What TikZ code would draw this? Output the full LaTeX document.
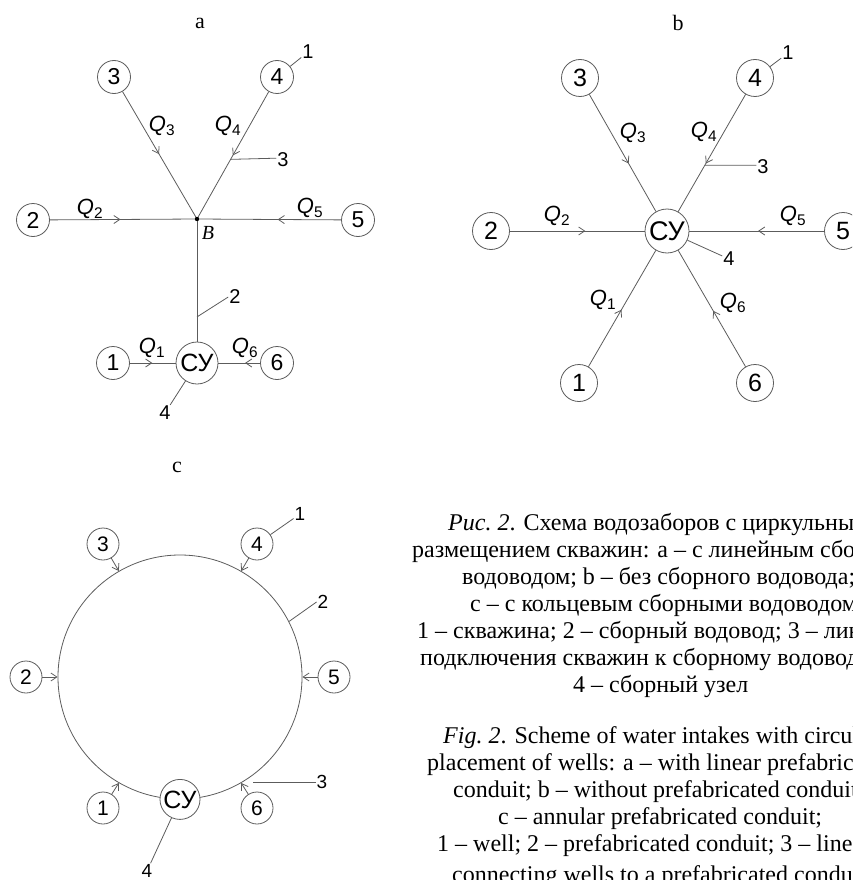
\documentclass[tikz,border=0pt]{standalone}
\usepackage{fontspec}
\setmainfont{Liberation Serif}
\setsansfont{Liberation Sans}
\usetikzlibrary{arrows.meta,decorations.markings,calc}
\definecolor{lc}{gray}{0.36}
\tikzset{
  ln/.style={draw=lc, line width=0.8pt},
  barb/.style={-{Straight Barb[length=6pt,width=8pt]}},
  midarr/.style={postaction={decorate}, decoration={markings, mark=at position #1 with {\arrow{Straight Barb[length=6pt,width=8pt]}}}},
  wellbase/.style={circle, draw=lc, line width=0.8pt, fill=white, inner sep=0pt},
  wellA/.style={wellbase, minimum size=33pt, font=\sffamily\fontsize{23}{23}\selectfont},
  cyA/.style={wellbase, minimum size=42pt, font=\sffamily\fontsize{25}{25}\selectfont},
  wellB/.style={wellbase, minimum size=37pt, font=\sffamily\fontsize{25}{25}\selectfont},
  cyB/.style={wellbase, minimum size=44pt, font=\sffamily\fontsize{27}{27}\selectfont},
  wellC/.style={wellbase, minimum size=32pt, font=\sffamily\fontsize{21}{21}\selectfont},
  cyC/.style={wellbase, minimum size=40pt, font=\sffamily\fontsize{25}{25}\selectfont},
  ringst/.style={circle, draw=lc, line width=0.8pt, inner sep=0pt, minimum size=244pt},
  lab/.style={inner sep=1pt, font=\sffamily\fontsize{20}{20}\selectfont},
  qlab/.style={inner sep=0pt, font=\sffamily\itshape\fontsize{22}{22}\selectfont},
  ttl/.style={inner sep=0pt, font=\fontsize{22}{22}\selectfont},
  captxt/.style={anchor=base west, inner sep=0pt, font=\fontsize{24}{27}\selectfont},
}
\newcommand{\qq}[1]{Q\textsubscript{\upshape #1}}
\begin{document}
\begin{tikzpicture}[x=1pt,y=-1pt]
\useasboundingbox (0,0) rectangle (852,880);
\clip (0,0) rectangle (852,880);

% ---------------- panel a
\node[ttl] (ta) at (200,23) {a};
\coordinate (aB) at (197,219);
\node[wellA] (a3) at (114,77) {3};
\node[wellA] (a4) at (277,77) {4};
\node[wellA] (a2) at (33,220) {2};
\node[wellA] (a5) at (358,220) {5};
\node[wellA] (a1) at (113,363) {1};
\node[wellA] (a6) at (277,363) {6};
\node[cyA] (aCY) at (197,363) {СУ};
\draw[ln, midarr=0.49] (a3) -- (aB);
\draw[ln, midarr=0.5] (a4) -- (aB);
\draw[ln, midarr=0.48] (a2) -- (aB);
\draw[ln, midarr=0.44] (a5) -- (aB);
\draw[ln] (aB) -- (aCY);
\draw[ln, midarr=0.49] (a1) -- (aCY);
\draw[ln, midarr=0.36] (a6) -- (aCY);
\fill (aB) circle[radius=2.2pt];
\node[inner sep=0pt, font=\itshape\fontsize{20}{20}\selectfont] (aBl) at (208,233) {B};
\node[qlab] (aq3) at (162,126) {\qq{3}};
\node[qlab] (aq4) at (228,126) {\qq{4}};
\node[qlab] (aq2) at (90,209) {\qq{2}};
\node[qlab] (aq5) at (310,208) {\qq{5}};
\node[qlab] (aq1) at (152,348) {\qq{1}};
\node[qlab] (aq6) at (245,348) {\qq{6}};
\node[lab] (aL1) at (308,52) {1};
\node[lab] (aL3) at (283,160) {3};
\node[lab] (aL2) at (235,297) {2};
\node[lab] (aL4) at (165,413) {4};
\coordinate (pa3) at ($(a4)!0.58!(aB)$);
\coordinate (pa2) at ($(aB)!0.68!(aCY)$);
\draw[ln] (a4) -- (aL1);
\draw[ln] (pa3) -- (aL3.165);
\draw[ln] (pa2) -- (aL2.west);
\draw[ln] (aCY) -- (aL4);

% ---------------- panel b
\node[ttl] (tb) at (678,23) {b};
\node[wellB] (b3) at (580,78) {3};
\node[wellB] (b4) at (755,78) {4};
\node[wellB] (b2) at (491,231) {2};
\node[wellB] (b5) at (843,231) {5};
\node[wellB] (b1) at (579,383) {1};
\node[wellB] (b6) at (755,383) {6};
\node[cyB] (bCY) at (667,231) {СУ};
\draw[ln, midarr=0.59] (b3) -- (bCY);
\draw[ln, midarr=0.59] (b4) -- (bCY);
\draw[ln, midarr=0.56] (b2) -- (bCY);
\draw[ln, midarr=0.49] (b5) -- (bCY);
\draw[ln, midarr=0.49] (b1) -- (bCY);
\draw[ln, midarr=0.48] (b6) -- (bCY);
\node[qlab] (bq3) at (633,133) {\qq{3}};
\node[qlab] (bq4) at (704,132) {\qq{4}};
\node[qlab] (bq2) at (557,216) {\qq{2}};
\node[qlab] (bq5) at (793,216) {\qq{5}};
\node[qlab] (bq1) at (603,300) {\qq{1}};
\node[qlab] (bq6) at (733,303) {\qq{6}};
\node[lab] (bL1) at (788,53) {1};
\node[lab] (bL3) at (763,167) {3};
\node[lab] (bL4) at (729,259) {4};
\coordinate (pb3) at ($(b4)!0.57!(bCY)$);
\draw[ln] (b4) -- (bL1);
\draw[ln] (pb3) -- (bL3.165);
\draw[ln] (bCY) -- (bL4);

% ---------------- panel c
\node[ttl] (tc) at (177,467) {c};
\node[ringst] (ring) at (180,677) {};
\node[wellC] (c3) at (103,544) {3};
\node[wellC] (c4) at (257,544) {4};
\node[wellC] (c2) at (26,677) {2};
\node[wellC] (c5) at (334,677) {5};
\node[wellC] (c1) at (103,808) {1};
\node[wellC] (c6) at (257,808) {6};
\node[cyC] (cCY) at (ring.270) {СУ};
\draw[ln, barb] (c3) -- (ring.120);
\draw[ln, barb] (c4) -- (ring.60);
\draw[ln, barb] (c2) -- (ring.180);
\draw[ln, barb] (c5) -- (ring.0);
\draw[ln, barb] (c1) -- (ring.240);
\draw[ln, barb] (c6) -- (ring.300);
\node[lab, font=\sffamily\fontsize{19}{19}\selectfont] (cL1) at (300,514) {1};
\node[lab, font=\sffamily\fontsize{19}{19}\selectfont] (cL2) at (323,602) {2};
\node[lab, font=\sffamily\fontsize{19}{19}\selectfont] (cL3) at (322,782) {3};
\node[lab, font=\sffamily\fontsize{19}{19}\selectfont] (cL4) at (147,871) {4};
\coordinate (pc3) at (253,782);
\draw[ln] (c4) -- (cL1);
\draw[ln] (ring.27) -- (cL2.west);
\draw[ln] (pc3) -- (cL3.west);
\draw[ln] (cCY) -- (cL4);

% ---------------- caption
\node[captxt] (r1) at (448,530) {\textit{Рис.~2}. Схема водозаборов с циркульным};
\node[captxt] (r2) at (412,557) {размещением скважин: a – с линейным сборным};
\node[captxt] (r3) at (462,584) {водоводом; b – без сборного водовода;};
\node[captxt] (r4) at (470,611) {c – с кольцевым сборными водоводом;};
\node[captxt] (r5) at (417,638) {1 – скважина; 2 – сборный водовод; 3 – линия};
\node[captxt] (r6) at (420,665) {подключения скважин к сборному водоводу;};
\node[captxt] (r7) at (573,692) {4 – сборный узел};
\node[captxt] (e1) at (443,743) {\textit{Fig.~2}. Scheme of water intakes with circular};
\node[captxt] (e2) at (427,770) {placement of wells: a – with linear prefabricated};
\node[captxt] (e3) at (453,797) {conduit; b – without prefabricated conduit;};
\node[captxt] (e4) at (498,824) {c – annular prefabricated conduit;};
\node[captxt] (e5) at (437,851) {1 – well; 2 – prefabricated conduit; 3 – lines};
\node[captxt] (e6) at (452,882) {connecting wells to a prefabricated conduit;};
\end{tikzpicture}
\end{document}
